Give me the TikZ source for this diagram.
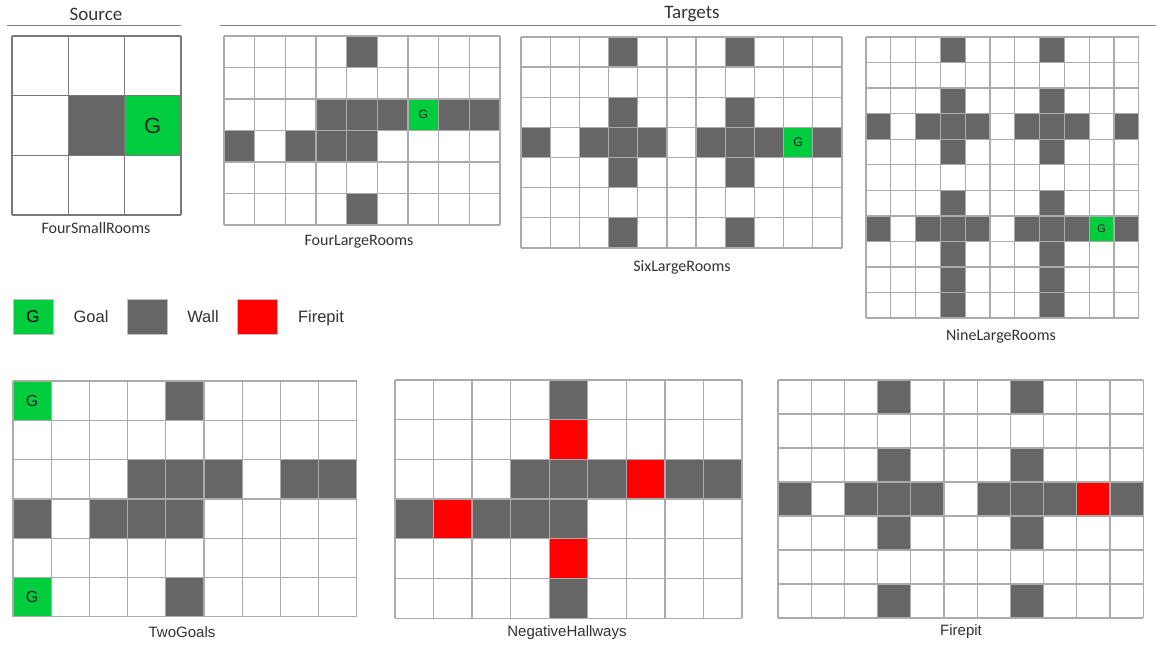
\documentclass[tikz,border=0pt]{standalone}
\usepackage{fontspec}
\setmainfont{Liberation Sans}
\newfontfamily\carlito{Carlito}
\definecolor{wallgray}{HTML}{666666}
\definecolor{goalgreen}{HTML}{00CC3D}
\definecolor{pitred}{HTML}{FF0000}
\definecolor{linegray}{HTML}{ABABAB}
\definecolor{srcline}{HTML}{7A7A7A}
\definecolor{textgray}{HTML}{333333}
\tikzset{
  wall/.style={fill=wallgray},
  goal/.style={fill=goalgreen},
  pit/.style={fill=pitred},
  cellline/.style={draw=linegray, line width=1.3pt},
  header/.style={font=\carlito\fontsize{19}{22}\selectfont, text=textgray, anchor=base},
  toplabel/.style={font=\carlito\fontsize{16}{19}\selectfont, text=textgray, anchor=base},
  botlabel/.style={font=\fontsize{15}{18}\selectfont, text=textgray, anchor=base},
  legendtext/.style={font=\fontsize{16.5}{19}\selectfont, text=textgray, anchor=base},
  gmark/.style={text=black!85, inner sep=0pt},
  legendbox/.style={minimum width=40pt, minimum height=35pt, inner sep=0pt, draw=black!25, line width=0.6pt}
}
% grid lines of a cols x rows room
\newcommand{\gridlines}[3][cellline]{%
  \foreach \i in {0,...,#2} \draw[#1] (\i,0) -- (\i,#3);
  \foreach \j in {0,...,#3} \draw[#1] (0,\j) -- (#2,\j);
}
\begin{document}
\begin{tikzpicture}[x=1pt, y=-1pt]
  \useasboundingbox (0,0) rectangle (1156,646);
  \fill[white] (0,0) rectangle (1156,646);

  % headers
  \node[header] (source) at (96,20) {Source};
  \node[header] (targets) at (692,18) {Targets};
  \coordinate (srcL) at (7,25.5);
  \coordinate (srcR) at (181,25.5);
  \coordinate (tgtL) at (220,25.5);
  \coordinate (tgtR) at (1156,25.5);
  \draw[line width=1.6pt, black!50] (srcL) -- (srcR);
  \draw[line width=1.6pt, black!50] (tgtL) -- (tgtR);

  % source: four small rooms
  \begin{scope}[shift={(12,36)}, x=56.3pt, y=-59.7pt]
    \fill[wall] (1,1) rectangle ++(1,1);
    \fill[goal] (2,1) rectangle ++(1,1);
    \gridlines[cellline, draw=srcline]{3}{3}
    \node[gmark, font=\fontsize{22}{24}\selectfont] (srcG) at (2.5,1.5) {G};
  \end{scope}
  \node[toplabel] (foursmall) at (96,233) {FourSmallRooms};

  % four large rooms
  \begin{scope}[shift={(224,36)}, x=30.67pt, y=-31.5pt]
    \foreach \c/\r in {4/0,3/2,4/2,5/2,7/2,8/2,0/3,2/3,3/3,4/3,4/5}
      \fill[wall] (\c,\r) rectangle ++(1,1);
    \fill[goal] (6,2) rectangle ++(1,1);
    \gridlines{9}{6}
    \node[gmark, font=\fontsize{12}{14}\selectfont] (fourG) at (6.5,2.5) {G};
  \end{scope}
  \node[toplabel] (fourlarge) at (359,245) {FourLargeRooms};

  % six large rooms
  \begin{scope}[shift={(521,37)}, x=29.18pt, y=-30.14pt]
    \foreach \c/\r in {3/0,7/0,3/2,7/2,0/3,2/3,3/3,4/3,6/3,7/3,8/3,10/3,3/4,7/4,3/6,7/6}
      \fill[wall] (\c,\r) rectangle ++(1,1);
    \fill[goal] (9,3) rectangle ++(1,1);
    \gridlines{11}{7}
    \node[gmark, font=\fontsize{12.5}{14}\selectfont] (sixG) at (9.5,3.5) {G};
  \end{scope}
  \node[toplabel] (sixlarge) at (682,271) {SixLargeRooms};

  % nine large rooms
  \begin{scope}[shift={(866,37)}, x=24.8pt, y=-25.55pt]
    \foreach \r in {0,2,4,6,8,9,10}
      \foreach \c in {3,7} \fill[wall] (\c,\r) rectangle ++(1,1);
    \foreach \r in {3,7}
      \foreach \c in {0,2,3,4,6,7,8,10} \fill[wall] (\c,\r) rectangle ++(1,1);
    \fill[goal] (9,7) rectangle ++(1,1);
    \gridlines{11}{11}
    \node[gmark, font=\fontsize{11}{13}\selectfont] (nineG) at (9.5,7.5) {G};
  \end{scope}
  \node[toplabel] (ninelarge) at (1001,340) {NineLargeRooms};

  % legend
  \node[legendbox, fill=goalgreen, font=\fontsize{17}{19}\selectfont] (leggoal) at (33,316.5) {G};
  \node[legendtext] (goaltxt) at (91,322) {Goal};
  \node[legendbox, fill=wallgray] (legwall) at (147,316.5) {};
  \node[legendtext] (walltxt) at (203,322) {Wall};
  \node[legendbox, fill=pitred] (legpit) at (257,316.5) {};
  \node[legendtext] (pittxt) at (321,322) {Firepit};

  % two goals
  \begin{scope}[shift={(13,381)}, x=38.2pt, y=-39.3pt]
    \foreach \c/\r in {4/0,3/2,4/2,5/2,7/2,8/2,0/3,2/3,3/3,4/3,4/5}
      \fill[wall] (\c,\r) rectangle ++(1,1);
    \fill[goal] (0,0) rectangle ++(1,1);
    \fill[goal] (0,5) rectangle ++(1,1);
    \gridlines{9}{6}
    \node[gmark, font=\fontsize{16}{18}\selectfont] (twoG1) at (0.5,0.5) {G};
    \node[gmark, font=\fontsize{16}{18}\selectfont] (twoG2) at (0.5,5.5) {G};
  \end{scope}
  \node[botlabel] (twogoals) at (182,637) {TwoGoals};

  % negative hallways
  \begin{scope}[shift={(395,380)}, x=38.55pt, y=-39.7pt]
    \foreach \c/\r in {4/0,3/2,4/2,5/2,7/2,8/2,0/3,2/3,3/3,4/3,4/5}
      \fill[wall] (\c,\r) rectangle ++(1,1);
    \foreach \c/\r in {4/1,6/2,1/3,4/4}
      \fill[pit] (\c,\r) rectangle ++(1,1);
    \gridlines{9}{6}
  \end{scope}
  \node[botlabel] (neghall) at (567,636) {NegativeHallways};

  % firepit
  \begin{scope}[shift={(778,380)}, x=33.2pt, y=-34pt]
    \foreach \c/\r in {3/0,7/0,3/2,7/2,0/3,2/3,3/3,4/3,6/3,7/3,8/3,10/3,3/4,7/4,3/6,7/6}
      \fill[wall] (\c,\r) rectangle ++(1,1);
    \fill[pit] (9,3) rectangle ++(1,1);
    \gridlines{11}{7}
  \end{scope}
  \node[botlabel] (firepit) at (961,635) {Firepit};
\end{tikzpicture}
\end{document}
